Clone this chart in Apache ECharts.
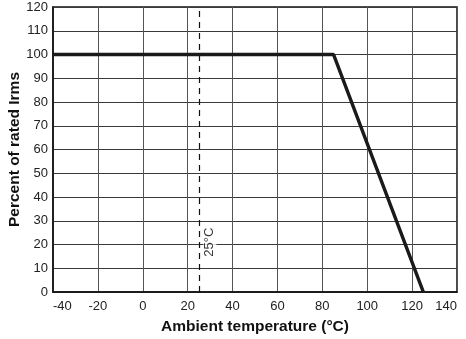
<!DOCTYPE html>
<html><head><meta charset="utf-8">
<script src="https://cdn.jsdelivr.net/npm/echarts@6/dist/echarts.min.js"></script>
<style>html,body{margin:0;padding:0;background:#fff}#c{width:466px;height:339px}</style>
</head><body><div id="c"></div>
<script>
const tempPoints = [-40, 85, 125];
const percentPoints = [100, 100, 0];
const refTemp = 25;
const refLabelY = 21;
const refLabel = '25°C';
const xTitle = 'Ambient temperature (°C)';
const yTitle = 'Percent of rated Irms';

const chart = echarts.init(document.getElementById('c'));
const font = 'Liberation Sans, Arial, Helvetica, sans-serif';
chart.setOption({
  animation: false,
  grid: {left: 53, right: 9, top: 7, bottom: 47, show: true, borderColor: '#111', borderWidth: 1.5, containLabel: false, outerBoundsMode: 'none'},
  xAxis: {
    type: 'value', min: -40, max: 140, interval: 20,
    axisLine: {show: true, onZero: false, lineStyle: {color: '#111', width: 1.5}},
    axisTick: {show: false},
    axisLabel: {color: '#222', fontSize: 13, fontFamily: font, margin: 8, alignMinLabel: 'left', alignMaxLabel: 'right'},
    splitLine: {show: true, lineStyle: {color: '#555', width: 1}},
    name: xTitle, nameLocation: 'middle', nameGap: 27, nameMoveOverlap: false,
    nameTextStyle: {color: '#111', fontSize: 15.5, fontWeight: 'bold', fontFamily: font}
  },
  yAxis: {
    type: 'value', min: 0, max: 120, interval: 10,
    axisLine: {show: true, onZero: false, lineStyle: {color: '#111', width: 1.5}},
    axisTick: {show: false},
    axisLabel: {color: '#222', fontSize: 13, fontFamily: font, margin: 5},
    splitLine: {show: true, lineStyle: {color: '#3a3a3a', width: 1}},
    name: yTitle, nameLocation: 'middle', nameGap: 30, nameMoveOverlap: false,
    nameTextStyle: {color: '#111', fontSize: 15.5, fontWeight: 'bold', fontFamily: font}
  },
  series: [
    {
      type: 'line', data: tempPoints.map((t, i) => [t, percentPoints[i]]),
      symbol: 'none', lineStyle: {color: '#1a1a1a', width: 3.5}, z: 5,
      markLine: {
        silent: true, symbol: 'none', label: {show: false},
        lineStyle: {color: '#111', width: 1.2, type: [6, 5]},
        data: [{xAxis: refTemp}]
      }
    },
    {
      type: 'scatter', data: [[refTemp, refLabelY]], symbolSize: 0, z: 4,
      label: {show: true, formatter: refLabel, rotate: 90, position: 'inside', offset: [0, 11],
        align: 'center', verticalAlign: 'middle',
        color: '#000', fontSize: 13, fontFamily: font, backgroundColor: '#fff', padding: [0, 3]}
    }
  ]
});
</script></body></html>
